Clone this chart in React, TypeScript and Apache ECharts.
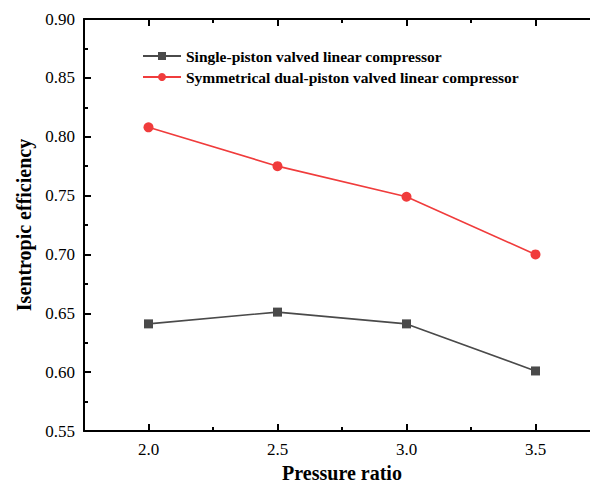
import React, { useEffect, useRef } from "react";
import * as echarts from "echarts";

const pressureRatio = [2.0, 2.5, 3.0, 3.5];
const singlePiston = [0.641, 0.651, 0.641, 0.601];
const dualPiston = [0.808, 0.775, 0.749, 0.7];
const seriesNames = [
  "Single-piston valved linear compressor",
  "Symmetrical dual-piston valved linear compressor",
];
const majorX = [2.0, 2.5, 3.0, 3.5];
const xTitle = "Pressure ratio";
const yTitle = "Isentropic efficiency";

const FONT = "Liberation Serif";

export default function App() {
  const ref = useRef<HTMLDivElement>(null);
  useEffect(() => {
    document.body.style.margin = "0";
    const chart = echarts.init(ref.current!, null, { renderer: "svg" });
    const lineStyle = { color: "#000", width: 2 };
    const tickFont = {
      fontFamily: FONT,
      fontSize: 17,
      color: "#000",
      fontWeight: "normal",
    };
    const baseX = {
      type: "value",
      min: 1.75,
      max: 3.75,
      interval: 0.25,
      splitLine: { show: false },
    };
    chart.setOption({
      animation: false,
      textStyle: { fontFamily: FONT },
      grid: {
        left: 84,
        top: 19,
        width: 516,
        height: 412,
        outerBoundsMode: "none",
        containLabel: false,
      },
      legend: {
        orient: "vertical",
        left: 137,
        top: 43,
        itemWidth: 38,
        itemHeight: 10,
        itemGap: 5,
        data: seriesNames,
        textStyle: {
          fontFamily: FONT,
          fontWeight: "bold",
          fontSize: 15.5,
          color: "#000",
        },
      },
      xAxis: [
        {
          ...baseX,
          position: "bottom",
          name: xTitle,
          nameLocation: "middle",
          nameGap: 30,
          nameTextStyle: {
            fontFamily: FONT,
            fontWeight: "bold",
            fontSize: 20,
            color: "#000",
          },
          axisLine: { lineStyle },
          axisTick: { inside: true, length: 4, lineStyle },
          axisLabel: {
            customValues: majorX,
            formatter: (v: number) => "{t|" + v.toFixed(1) + "}",
            ...tickFont,
            rich: { t: tickFont },
            margin: 10,
          },
        },
        {
          ...baseX,
          position: "bottom",
          axisLine: { show: false },
          axisTick: { inside: true, length: 7, customValues: majorX, lineStyle },
          axisLabel: { show: false },
        },
        {
          ...baseX,
          position: "top",
          axisLine: { lineStyle },
          axisTick: { inside: true, length: 4, lineStyle },
          axisLabel: { show: false },
        },
        {
          ...baseX,
          position: "top",
          axisLine: { show: false },
          axisTick: { inside: true, length: 7, customValues: majorX, lineStyle },
          axisLabel: { show: false },
        },
      ],
      yAxis: {
        type: "value",
        min: 0.55,
        max: 0.9,
        interval: 0.05,
        name: yTitle,
        nameLocation: "middle",
        nameGap: 50,
        nameRotate: 90,
        nameTextStyle: {
          fontFamily: FONT,
          fontWeight: "bold",
          fontSize: 20,
          color: "#000",
        },
        splitLine: { show: false },
        axisLine: { show: true, lineStyle },
        axisTick: { show: true, inside: true, length: 7, lineStyle },
        minorTick: { show: true, splitNumber: 2, length: 4, lineStyle },
        axisLabel: {
          formatter: (v: number) => "{t|" + v.toFixed(2) + "}",
          ...tickFont,
          rich: { t: tickFont },
          margin: 9,
        },
      },
      series: [
        {
          name: seriesNames[0],
          type: "line",
          xAxisIndex: 0,
          data: pressureRatio.map((x, i) => [x, singlePiston[i]]),
          symbol: "rect",
          symbolSize: 9,
          itemStyle: { color: "#4a4a4a" },
          lineStyle: { color: "#4a4a4a", width: 1.6 },
        },
        {
          name: seriesNames[1],
          type: "line",
          xAxisIndex: 0,
          data: pressureRatio.map((x, i) => [x, dualPiston[i]]),
          symbol: "circle",
          symbolSize: 10,
          itemStyle: { color: "#f03c3c" },
          lineStyle: { color: "#f03c3c", width: 1.6 },
        },
      ],
    });
    return () => chart.dispose();
  }, []);
  return <div ref={ref} style={{ width: 590, height: 485 }} />;
}
